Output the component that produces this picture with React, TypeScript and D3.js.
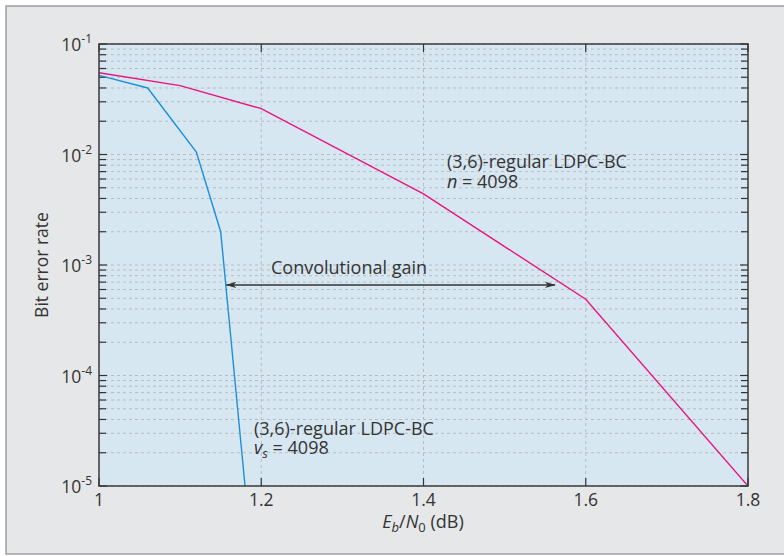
import React from 'react';
import * as d3 from 'd3';

// Eb/N0 (dB) and bit error rate
const ebn0Block = [1.0, 1.1, 1.2, 1.4, 1.6, 1.8];
const berBlock = [0.055, 0.042, 0.026, 0.0044, 0.00049, 0.00001];
const ebn0Conv = [1.0, 1.06, 1.12, 1.15, 1.18];
const berConv = [0.052, 0.04, 0.0105, 0.002, 0.00001];

const xTicks = [1, 1.2, 1.4, 1.6, 1.8];
const xTickLabels = ['1', '1.2', '1.4', '1.6', '1.8'];
const yDecades = [-1, -2, -3, -4, -5];

const W = 784;
const H = 556;
const FONT = "'Open Sans', sans-serif";
const TXT = '#333';

const App = () => {
  const x = d3.scaleLinear().domain([1, 1.8]).range([99, 748]);
  const y = d3.scaleLog().domain([1e-5, 1e-1]).range([486, 44]);
  const [x0, x1] = x.range();
  const [y0, y1] = y.range();

  const line = d3
    .line<[number, number]>()
    .x((d) => x(d[0]))
    .y((d) => y(d[1]));

  const blockPts = ebn0Block.map((v, i) => [v, berBlock[i]] as [number, number]);
  const convPts = ebn0Conv.map((v, i) => [v, berConv[i]] as [number, number]);

  // minor values 2..9 for each decade
  const minors: number[] = [];
  for (let e = -5; e < -1; e++) {
    for (let m = 2; m <= 9; m++) minors.push(m * Math.pow(10, e));
  }
  const gridY = minors.concat(yDecades.map((e) => Math.pow(10, e)));

  return (
    <svg width={W} height={H} style={{ position: 'absolute', left: 0, top: 0 }} fontFamily={FONT}>
      <defs>
        <clipPath id="plot">
          <rect x={x0} y={y1} width={x1 - x0} height={y0 - y1} />
        </clipPath>
        <marker id="arr" viewBox="0 0 12 10" refX="11" refY="5" markerWidth="8" markerHeight="6" orient="auto-start-reverse">
          <path d="M0,1.5 L12,5 L0,8.5 L3,5 Z" fill="#333" />
        </marker>
      </defs>
      <rect x={0} y={0} width={W} height={H} fill="#fff" />
      <rect x={6} y={6} width={W} height={548} fill="#e6e7e8" stroke="#9d9fa2" strokeWidth={1.5} />

      <rect x={x0} y={y1} width={x1 - x0} height={y0 - y1} fill="#d7e7f2" />

      {/* grid */}
      {gridY.map((v, i) => (
        <line key={'gy' + i} x1={x0} x2={x1} y1={y(v)} y2={y(v)} stroke="#b9bcbf" strokeWidth={1} strokeDasharray="3,3" />
      ))}
      {xTicks.slice(1, -1).map((v) => (
        <line key={'gx' + v} x1={x(v)} x2={x(v)} y1={y0} y2={y1} stroke="#b9bcbf" strokeWidth={1} strokeDasharray="3,3" />
      ))}

      {/* ticks */}
      {minors.map((v, i) => (
        <g key={'mt' + i} stroke="#333" strokeWidth={1.2}>
          <line x1={x0} x2={x0 + 7} y1={y(v)} y2={y(v)} />
          <line x1={x1} x2={x1 - 7} y1={y(v)} y2={y(v)} />
        </g>
      ))}
      {yDecades.map((e) => (
        <g key={'Mt' + e} stroke="#333" strokeWidth={1.2}>
          <line x1={x0} x2={x0 + 8} y1={y(Math.pow(10, e))} y2={y(Math.pow(10, e))} />
          <line x1={x1} x2={x1 - 8} y1={y(Math.pow(10, e))} y2={y(Math.pow(10, e))} />
        </g>
      ))}
      {xTicks.map((v) => (
        <g key={'xt' + v} stroke="#333" strokeWidth={1.2}>
          <line x1={x(v)} x2={x(v)} y1={y0} y2={y0 - 8} />
          <line x1={x(v)} x2={x(v)} y1={y1} y2={y1 + 8} />
        </g>
      ))}

      {/* curves */}
      <g clipPath="url(#plot)" fill="none" strokeWidth={1.4}>
        <path d={line(blockPts) || ''} stroke="#e8157b" />
        <path d={line(convPts) || ''} stroke="#1b90d8" />
      </g>

      <rect x={x0} y={y1} width={x1 - x0} height={y0 - y1} fill="none" stroke="#3a3a3a" strokeWidth={1.5} />

      {/* tick labels */}
      {yDecades.map((e) => (
        <text key={'yl' + e} x={92} y={y(Math.pow(10, e)) + 7} textAnchor="end" fontSize={17.5} fill={TXT}>
          10
          <tspan fontSize={12} dy={-8}>{String(e)}</tspan>
        </text>
      ))}
      {xTicks.map((v, i) => (
        <text key={'xl' + v} x={x(v)} y={506} textAnchor="middle" fontSize={17.5} fill={TXT}>
          {xTickLabels[i]}
        </text>
      ))}

      {/* axis titles */}
      <text transform="translate(48,265) rotate(-90)" textAnchor="middle" fontSize={17.5} fill={TXT}>
        Bit error rate
      </text>
      <text x={423} y={528} textAnchor="middle" fontSize={18} fill={TXT}>
        <tspan fontStyle="italic">E</tspan>
        <tspan fontStyle="italic" fontSize={13} dy={4}>b</tspan>
        <tspan dy={-4}>/</tspan>
        <tspan fontStyle="italic">N</tspan>
        <tspan fontSize={13} dy={4}>0</tspan>
        <tspan dy={-4}> (dB)</tspan>
      </text>

      {/* annotations */}
      <text x={447} y={168} fontSize={18} fill={TXT}>(3,6)-regular LDPC-BC</text>
      <text x={447} y={188} fontSize={18} fill={TXT}>
        <tspan fontStyle="italic">n</tspan> = 4098
      </text>
      <text x={254} y={435} fontSize={18} fill={TXT}>(3,6)-regular LDPC-BC</text>
      <text x={254} y={454} fontSize={18} fill={TXT}>
        <tspan fontStyle="italic">v</tspan>
        <tspan fontStyle="italic" fontSize={13} dy={4}>s</tspan>
        <tspan dy={-4}> = 4098</tspan>
      </text>

      <line x1={x(1.157)} x2={x(1.562)} y1={y(0.00066)} y2={y(0.00066)} stroke="#333" strokeWidth={1.5} markerStart="url(#arr)" markerEnd="url(#arr)" />
      <text x={271} y={274} fontSize={18} fill={TXT}>Convolutional gain</text>
    </svg>
  );
};

export default App;
